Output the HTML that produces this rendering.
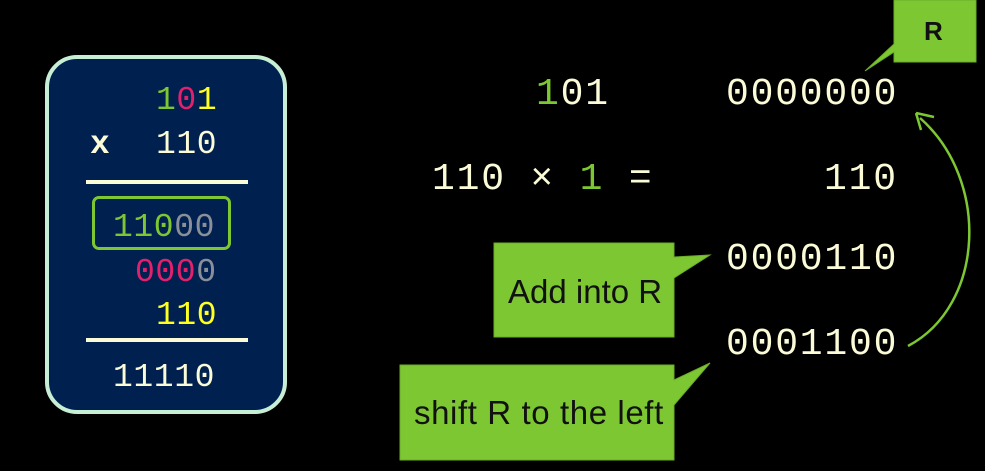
<!DOCTYPE html>
<html><head><meta charset="utf-8"><style>
html,body{margin:0;padding:0;background:#000;}
body{width:985px;height:471px;position:relative;overflow:hidden;font-family:"Liberation Mono",monospace;}
.t{position:absolute;white-space:pre;color:#fbfbd8;line-height:1;}
.r{font-size:38px;letter-spacing:1.8px;}
.l{font-size:33px;letter-spacing:0.6px;}
.g{color:#7dc832}.m{color:#e3206c}.y{color:#ffff22}.gr{color:#8a8f99;font-weight:normal;}
.box{position:absolute;left:45px;top:55px;width:234px;height:351px;background:#002050;border:4px solid #c7efd5;border-radius:32px;}
.hl{position:absolute;height:4px;background:#fbfbd8;left:86px;width:162px;}
.sans{font-family:"Liberation Sans",sans-serif;color:#111;}
</style></head><body>
<div class="box"></div>
<div class="hl" style="top:180px"></div>
<div class="hl" style="top:338px"></div>
<div style="position:absolute;left:92px;top:196px;width:133px;height:48px;border:3px solid #7dc832;border-radius:7px;"></div>
<div class="t l" style="left:156px;top:84px"><span class="g">1</span><span class="m">0</span><span class="y">1</span></div>
<div class="t l" style="left:90px;top:128px;font-weight:bold">x</div>
<div class="t l" style="left:156px;top:128px">110</div>
<div class="t l g" style="left:113px;top:211px">110<span class="gr">00</span></div>
<div class="t l m" style="left:135px;top:256px">000<span class="gr">0</span></div>
<div class="t l y" style="left:156px;top:299px">110</div>
<div class="t l" style="left:113px;top:361px">11110</div>

<div class="t r" style="left:536px;top:76px"><span class="g">1</span>01</div>
<div class="t r" style="left:726px;top:76px">0000000</div>
<div class="t r" style="left:432px;top:161px">110 × <span class="g">1</span> =</div>
<div class="t r" style="left:824px;top:161px">110</div>
<div class="t r" style="left:726px;top:241px">0000110</div>
<div class="t r" style="left:726px;top:326px">0001100</div>

<svg width="985" height="471" style="position:absolute;left:0;top:0">
<polygon points="894,0 976,0 976,62 894,62 894,52 865,71 894,44" fill="#7dc832" stroke="#6aac2a" stroke-width="1"/>
<polygon points="494,243 674,243 674,257 710,255 674,278 674,337 494,337" fill="#7dc832" stroke="#6aac2a" stroke-width="1"/>
<polygon points="400,365 674,365 674,380 710,363 674,405 674,460 400,460" fill="#7dc832" stroke="#6aac2a" stroke-width="1"/>
<path d="M908,346 C985,305 990,180 920,118" fill="none" stroke="#7dc832" stroke-width="2.5"/>
<path d="M916,113 L934,117 M916,113 L921,130" stroke="#7dc832" stroke-width="2.5" fill="none"/>
</svg>
<div class="t sans" style="left:924px;top:18px;font-size:26px;font-weight:bold">R</div>
<div class="t sans" style="left:508px;top:275px;font-size:33px;letter-spacing:0px">Add into R</div>
<div class="t sans" style="left:414px;top:396px;font-size:33px;letter-spacing:0.6px">shift R to the left</div>
</body></html>
